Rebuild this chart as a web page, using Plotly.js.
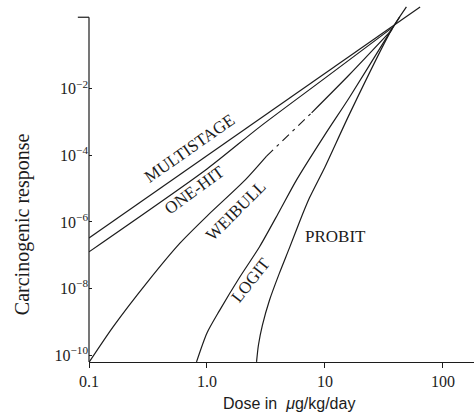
<!DOCTYPE html>
<html>
<head>
<meta charset="utf-8">
<script src="https://cdn.plot.ly/plotly-3.0.1.min.js"></script>
<style>html,body{margin:0;padding:0;background:#fff;}#chart{width:474px;height:420px;}</style>
</head>
<body>
<div id="chart"></div>
<script>
// Dose (µg/kg/day) and carcinogenic response
const doseMultistage = [0.1, 1, 10, 37, 64];
const respMultistage = [3.3e-7, 9.7e-5, 0.028, 0.73, 2.9];

const doseOneHit = [0.1, 1, 2.8, 10, 37];
const respOneHit = [1.26e-7, 3.9e-5, 7.2e-4, 0.021, 0.68];

const doseWeibull = [0.1, 0.16, 0.31, 0.59, 1, 2.1, 3.2, 7.7, 16, 37];
const respWeibull = [6e-11, 7e-10, 1.5e-8, 2.3e-7, 1.5e-6, 1.8e-5, 9.5e-5, 1.9e-3, 2.6e-2, 0.6];

const doseLogit = [0.815, 1, 1.28, 1.88, 2.79, 4.11, 5.73, 10, 16.2, 35.2, 43];
const respLogit = [6.2e-11, 4.6e-10, 2.2e-9, 2.1e-8, 1.8e-7, 2.1e-6, 1.8e-5, 4.2e-4, 5.7e-3, 0.48, 1.46];

const doseProbit = [2.63, 2.73, 2.95, 3.39, 4.11, 5.0, 6.08, 7.39, 10, 16.2, 36.6, 49];
const respProbit = [6.2e-11, 2.0e-10, 7.9e-10, 4.5e-9, 2.9e-8, 1.66e-7, 1.0e-6, 5.3e-6, 4.5e-5, 1.8e-3, 0.59, 2.9];

const xTickVals = [0.1, 1, 10, 100];
const xTickText = ['0.1', '1.0', '10', '100'];
const yTickVals = [1e-10, 1e-8, 1e-6, 1e-4, 1e-2];
const yTickText = ['10<sup>−10</sup>', '10<sup>−8</sup>', '10<sup>−6</sup>', '10<sup>−4</sup>', '10<sup>−2</sup>'];

const ink = '#1c1c1c';
const serif = 'Liberation Serif, Times New Roman, serif';
const sans = 'Liberation Sans, Arial, sans-serif';

function line(x, y, opts) {
  return Object.assign({
    type: 'scatter', mode: 'lines', x: x, y: y, hoverinfo: 'skip',
    line: {color: ink, width: 1.2, shape: 'spline', smoothing: 0.7}
  }, opts || {});
}

// Weibull has a dashed middle stretch (indices 6..7)
const wA = [0, 7], wB = [6, 8], wC = [7, 10];
const traces = [
  line(doseMultistage, respMultistage, {line: {color: ink, width: 1.2}}),
  line(doseOneHit, respOneHit),
  line(doseWeibull.slice(wA[0], wA[1]), respWeibull.slice(wA[0], wA[1])),
  line(doseWeibull.slice(wB[0], wB[1]), respWeibull.slice(wB[0], wB[1]), {line: {color: ink, width: 1.2, dash: '9px,5px,3px,5px'}}),
  line(doseWeibull.slice(wC[0], wC[1]), respWeibull.slice(wC[0], wC[1])),
  line(doseLogit, respLogit),
  line(doseProbit, respProbit)
];

const labelFont = {family: serif, size: 17, color: ink};
const layout = {
  width: 474, height: 420,
  margin: {l: 89, r: 0, t: 4, b: 58},
  paper_bgcolor: '#fff', plot_bgcolor: '#fff',
  showlegend: false,
  xaxis: {
    type: 'log', range: [-1, 2.263],
    tickvals: xTickVals, ticktext: xTickText,
    ticks: 'outside', ticklen: 5, tickwidth: 1, tickcolor: ink,
    showline: true, linecolor: ink, linewidth: 1.2,
    showgrid: false, zeroline: false,
    tickfont: {family: serif, size: 16, color: ink}
  },
  yaxis: {
    type: 'log', range: [-10.21, 0.55],
    tickvals: yTickVals, ticktext: yTickText,
    ticks: 'inside', ticklen: 3, tickwidth: 1, tickcolor: ink,
    showline: false, showgrid: false, zeroline: false,
    tickfont: {family: serif, size: 16, color: ink}
  },
  shapes: [
    {type: 'line', xref: 'paper', yref: 'paper', x0: 0, x1: 0, y0: 0, y1: 0.963, line: {color: ink, width: 1.2}},
    {type: 'line', xref: 'paper', yref: 'paper', x0: -0.029, x1: 0, y0: 0.963, y1: 0.963, line: {color: ink, width: 1.2}}
  ],
  annotations: [
    {xref: 'paper', yref: 'paper', x: -0.174, y: 0.385, text: 'Carcinogenic response', textangle: -90,
     showarrow: false, xanchor: 'center', yanchor: 'middle', font: {family: serif, size: 20, color: ink}},
    {xref: 'paper', yref: 'paper', x: 0.52, y: -0.117, text: 'Dose in &nbsp;<i>μ</i>g/kg/day',
     showarrow: false, xanchor: 'center', yanchor: 'middle', font: {family: sans, size: 16, color: ink}},
    {x: -0.148, y: -3.80, text: 'MULTISTAGE', textangle: -35, showarrow: false, font: labelFont},
    {x: -0.0975, y: -5.04, text: 'ONE-HIT', textangle: -36, showarrow: false, font: labelFont},
    {x: 0.25, y: -5.67, text: 'WEIBULL', textangle: -45, showarrow: false, font: labelFont},
    {x: 0.377, y: -7.74, text: 'LOGIT', textangle: -52, showarrow: false, font: labelFont},
    {x: 1.089, y: -6.45, text: 'PROBIT', textangle: 0, showarrow: false, font: labelFont}
  ]
};

Plotly.newPlot('chart', traces, layout, {staticPlot: true, displayModeBar: false});
</script>
</body>
</html>
